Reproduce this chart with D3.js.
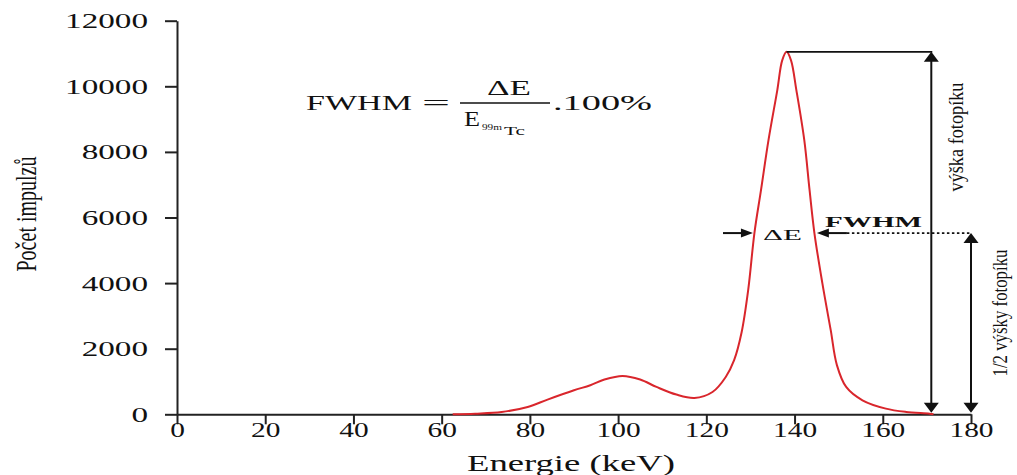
<!DOCTYPE html>
<html lang="cs">
<head>
<meta charset="UTF-8">
<title>FWHM fotopíku 99mTc</title>
<script src="https://d3js.org/d3.v7.min.js"></script>
<style>
  html, body { margin: 0; padding: 0; background: #fff; }
  svg text { font-family: "Liberation Serif", "Times New Roman", serif; fill: #111; }
</style>
</head>
<body>
<svg id="chart" width="1017" height="475"></svg>
<script>
// spectrum (energy in keV, counts)
const energy = [62.5, 67.6, 73.6, 79.5, 84, 90, 93.7, 96.9, 101, 105, 108.7, 113.2, 117.3,
    121.4, 124.4, 126.3, 128, 129.5, 130.9, 132.4, 134.1, 136.1, 137.2, 138.2, 139.2,
    140.4, 142.2, 143.4, 144.5, 146.3, 148.2, 149.6, 151.7, 155.4, 160.7, 165.3, 170.6, 171.5];
const counts = [0, 20, 70, 223, 449, 733, 886, 1060, 1170, 1060, 834, 601, 498,
    681, 1139, 1650, 2500, 3800, 5527, 6840, 8366, 9893, 10790, 11050, 10790,
    9893, 8366, 6840, 5527, 4000, 2565, 1500, 834, 427, 173, 72, 20, 0];

const xTicks = [0, 20, 40, 60, 80, 100, 120, 140, 160, 180];
const yTicks = [0, 2000, 4000, 6000, 8000, 10000, 12000];

// annotation values
const peakEnergy = 138.2;
const fwhmLeft = 130.9, fwhmRight = 144.5;
const heightArrowE = 171, halfArrowE = 180;

const svg = d3.select("#chart");
const x = d3.scaleLinear().domain([0, 180]).range([177, 971]);
const y = d3.scaleLinear().domain([0, 12000]).range([414.3, 20.7]);

const peakVal = d3.max(counts);
const halfVal = peakVal / 2;

// axes
let yAxis = svg.append("g")
    .attr("transform", `translate(${x(0)},0)`)
    .call(d3.axisLeft(y).tickValues(yTicks).tickFormat(d3.format("d")).tickSize(12).tickSizeOuter(0));
let xAxis = svg.append("g")
    .attr("transform", `translate(0,${y(0)})`)
    .call(d3.axisBottom(x).tickValues(xTicks).tickFormat(d3.format("d")).tickSize(10).tickSizeOuter(0));

[yAxis, xAxis].forEach(a => {
    a.attr("font-family", null);
    a.select(".domain").attr("stroke", "#222").attr("stroke-width", 2);
    a.selectAll(".tick line").attr("stroke", "#222").attr("stroke-width", 2);
    a.selectAll("text").attr("font-size", 20).attr("fill", "#111");
});
yAxis.selectAll("text")
    .attr("x", null).attr("dy", null)
    .attr("text-anchor", "end")
    .attr("transform", "translate(-29,7) scale(1.66,1)");
xAxis.selectAll("text")
    .attr("y", null).attr("dy", null)
    .attr("text-anchor", "middle")
    .attr("transform", "translate(0,23) scale(1.47,1)");

// axis titles
svg.append("text")
    .attr("transform", "translate(36,214) rotate(-90)")
    .attr("text-anchor", "middle")
    .attr("font-size", 30)
    .attr("textLength", 115).attr("lengthAdjust", "spacingAndGlyphs")
    .text("Počet impulzů");

svg.append("text")
    .attr("x", 467).attr("y", 470.5)
    .attr("font-size", 23.5)
    .attr("textLength", 208).attr("lengthAdjust", "spacingAndGlyphs")
    .text("Energie (keV)");

// spectrum
const line = d3.line()
    .x((d, i) => x(energy[i]))
    .y(d => y(d))
    .curve(d3.curveCatmullRom.alpha(0.5));

svg.append("path")
    .datum(counts)
    .attr("fill", "none")
    .attr("stroke", "#d9262c")
    .attr("stroke-width", 2)
    .attr("d", line);

// helpers
function txt(str, px, py, size, len, opts = {}) {
    let t = svg.append("text")
        .attr("x", px).attr("y", py)
        .attr("font-size", size)
        .attr("font-weight", opts.bold ? "bold" : null)
        .text(str);
    if (len) t.attr("textLength", len).attr("lengthAdjust", "spacingAndGlyphs");
    return t;
}
function head(tx, ty, dir, len, half) {
    // dir is where the tip points
    let p;
    if (dir === "up") p = [[tx, ty], [tx - half, ty + len], [tx + half, ty + len]];
    if (dir === "down") p = [[tx, ty], [tx - half, ty - len], [tx + half, ty - len]];
    if (dir === "right") p = [[tx, ty], [tx - len, ty - half], [tx - len, ty + half]];
    if (dir === "left") p = [[tx, ty], [tx + len, ty - half], [tx + len, ty + half]];
    svg.append("path").attr("d", "M" + p.join("L") + "Z").attr("fill", "#111");
}
function seg(x1, y1, x2, y2, w, dash) {
    svg.append("line")
        .attr("x1", x1).attr("y1", y1).attr("x2", x2).attr("y2", y2)
        .attr("stroke", "#111").attr("stroke-width", w)
        .attr("stroke-dasharray", dash || null);
}

// formula
txt("FWHM", 306, 110, 21, 106);
txt("=", 422, 110, 21, 28);
seg(460, 103, 550, 103, 1.3);
txt("ΔE", 487, 95, 21, 44);
txt("E", 464, 126, 21, 16);
txt("99m", 482, 130, 9, 20);
txt("Tc", 504, 135, 12.5, 21);
txt(".100%", 553, 110, 21, 99);

// peak height annotation
const yPeak = y(peakVal), yHalf = y(halfVal), y0 = y(0);
const xh = x(heightArrowE), xf = x(halfArrowE);
seg(x(peakEnergy), yPeak, xh + 1, yPeak, 1.6);
seg(xh, yPeak + 6, xh, y0 - 6, 2);
head(xh, yPeak, "up", 10, 7.5);
head(xh, y0 - 1.5, "down", 10, 7.5);

seg(xf, yHalf + 6, xf, y0 - 6, 2);
head(xf, yHalf, "up", 10, 7.5);
head(xf, y0 - 1.5, "down", 10, 7.5);

svg.append("text")
    .attr("transform", `translate(963,137) rotate(-90)`)
    .attr("text-anchor", "middle")
    .attr("font-size", 20)
    .attr("textLength", 109).attr("lengthAdjust", "spacingAndGlyphs")
    .text("výška fotopíku");
svg.append("text")
    .attr("transform", `translate(1007,313) rotate(-90)`)
    .attr("text-anchor", "middle")
    .attr("font-size", 20)
    .attr("textLength", 127).attr("lengthAdjust", "spacingAndGlyphs")
    .text("1/2 výšky fotopíku");

// FWHM arrows
const xl = x(fwhmLeft) - 1.5, xr = x(fwhmRight) + 2.5;
seg(723, yHalf, xl - 8, yHalf, 2);
head(xl, yHalf, "right", 12, 4.5);
seg(xr + 8, yHalf, xr + 30, yHalf, 2);
head(xr, yHalf, "left", 12, 4.5);
seg(xr + 30, yHalf, xf, yHalf, 1.6, "2.5,2.5");

txt("ΔE", 763, 239.5, 15, 39);
txt("FWHM", 825, 227, 14, 97, {bold: true});
</script>
</body>
</html>
